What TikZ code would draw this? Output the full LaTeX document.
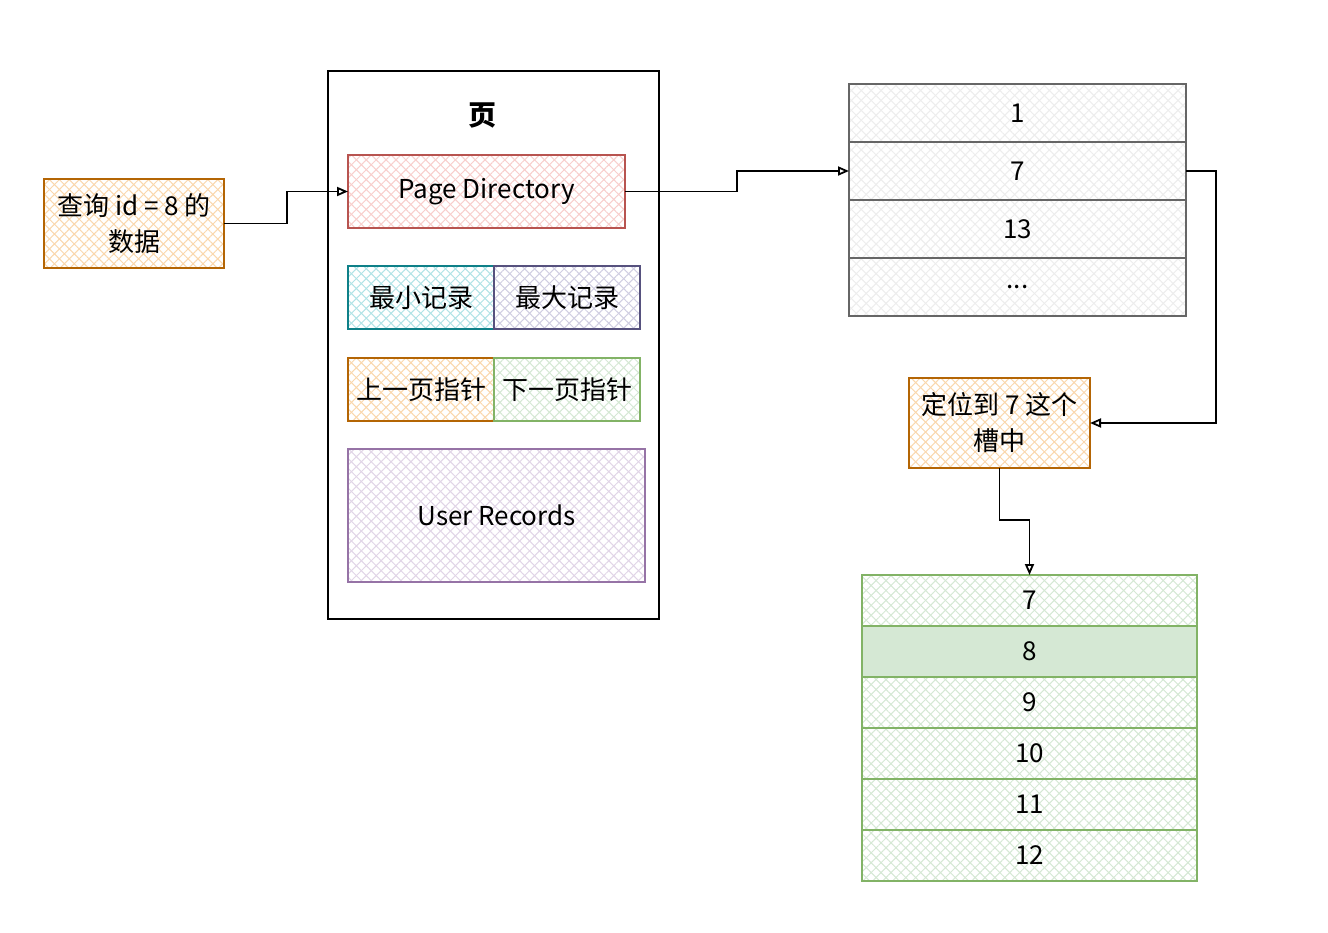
\documentclass[tikz,border=0pt]{standalone}
\usepackage{fontspec}
\setmainfont{Noto Sans CJK SC}
\usetikzlibrary{arrows.meta, positioning, patterns.meta}

\definecolor{orangeline}{HTML}{B46504}
\definecolor{orangefill}{HTML}{FAD7AC}
\definecolor{redline}{HTML}{B85450}
\definecolor{redfill}{HTML}{F8CECC}
\definecolor{tealline}{HTML}{0E8088}
\definecolor{tealfill}{HTML}{B0E3E6}
\definecolor{navyline}{HTML}{56517E}
\definecolor{navyfill}{HTML}{D0CEE2}
\definecolor{greenline}{HTML}{82B366}
\definecolor{greenfill}{HTML}{D5E8D4}
\definecolor{purpleline}{HTML}{9673A6}
\definecolor{purplefill}{HTML}{E1D5E7}
\definecolor{grayline}{HTML}{666666}
\definecolor{grayfill}{HTML}{EDEDED}

\tikzset{
  hatchbox/.style 2 args={draw=#1, line width=1.3pt, inner sep=0pt, outer sep=0pt,
    preaction={fill=white},
    preaction={pattern={Lines[angle=45,distance=7pt,line width=1pt]}, pattern color=#2},
    pattern={Lines[angle=-45,distance=7pt,line width=1pt]}, pattern color=#2,
    font=\fontsize{26}{36}\selectfont, align=center},
  link/.style={draw=black, line width=1.8pt, -{Triangle[open,length=11pt,width=9pt]}}
}

\begin{document}
\begin{tikzpicture}[x=1pt, y=-1pt]
\useasboundingbox (0,0) rectangle (1328,932);

% define the query and the page
  \node[hatchbox={orangeline}{orangefill}, minimum width=180, minimum height=89] (query) at (134,223.5)
{查询 id = 8 的\\数据};
  \node[draw=black, line width=1.5pt, fill=white, minimum width=331, minimum height=548] (page) at (493.5,345)
{};
  \node[font=\fontsize{28}{32}\selectfont\bfseries] (title) at (482,115)
{页};
  \node[hatchbox={redline}{redfill}, minimum width=277, minimum height=73] (pd) at (486.5,191.5)
{Page Directory};
  \node[hatchbox={tealline}{tealfill}, minimum width=146, minimum height=63] (minrec) at (421,297.5)
{最小记录};
  \node[hatchbox={navyline}{navyfill}, minimum width=146, minimum height=63] (maxrec) [right=0pt of minrec]
{最大记录};
  \node[hatchbox={orangeline}{orangefill}, minimum width=146, minimum height=63] (prev) at (421,389.5)
{上一页指针};
  \node[hatchbox={greenline}{greenfill}, minimum width=146, minimum height=63] (next) [right=0pt of prev]
{下一页指针};
  \node[hatchbox={purpleline}{purplefill}, minimum width=297, minimum height=133] (user) at (496.5,515.5)
{User Records};

% define the slots
  \node[hatchbox={grayline}{grayfill}, minimum width=337, minimum height=58] (s1) at (1017.5,113)
{1};
  \node[hatchbox={grayline}{grayfill}, minimum width=337, minimum height=58] (s7) [below=0pt of s1]
{7};
  \node[hatchbox={grayline}{grayfill}, minimum width=337, minimum height=58] (s13) [below=0pt of s7]
{13};
  \node[hatchbox={grayline}{grayfill}, minimum width=337, minimum height=58] (sdots) [below=0pt of s13]
{...};
  \node[hatchbox={orangeline}{orangefill}, minimum width=181, minimum height=90] (locate) at (999.5,423)
{定位到 7 这个\\槽中};

% define the records
  \node[hatchbox={greenline}{greenfill}, minimum width=335, minimum height=51] (r7) at (1029.5,600.5)
{7};
  \node[draw=greenline, line width=1.3pt, fill=greenfill, outer sep=0pt, font=\fontsize{26}{36}\selectfont, minimum width=335, minimum height=51] (r8) [below=0pt of r7]
{8};
  \node[hatchbox={greenline}{greenfill}, minimum width=335, minimum height=51] (r9) [below=0pt of r8]
{9};
  \node[hatchbox={greenline}{greenfill}, minimum width=335, minimum height=51] (r10) [below=0pt of r9]
{10};
  \node[hatchbox={greenline}{greenfill}, minimum width=335, minimum height=51] (r11) [below=0pt of r10]
{11};
  \node[hatchbox={greenline}{greenfill}, minimum width=335, minimum height=51] (r12) [below=0pt of r11]
{12};

% define the links
  \draw[link] (query.east) -- ++(63,0) |- (pd.west);
  \draw[link] (pd.east) -- ++(112,0) |- (s7.west);
  \draw[link] (s7.east) -- ++(30,0) |- (locate.east);
  \draw[link] (locate.south) -- ++(0,52) -| (r7.north);

\end{tikzpicture}
\end{document}
